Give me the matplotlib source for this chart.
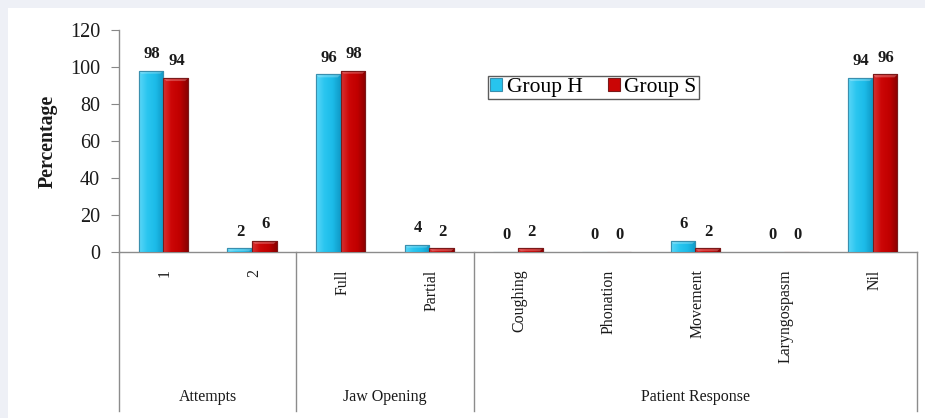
import numpy as np
import matplotlib
matplotlib.use("Agg")
import matplotlib.pyplot as plt
from matplotlib.colors import LinearSegmentedColormap
from matplotlib.patches import Rectangle, Patch
from matplotlib.lines import Line2D

plt.rcParams['font.family'] = ['Liberation Serif', 'DejaVu Serif']

categories = ["1", "2", "Full", "Partial", "Coughing", "Phonation",
              "Movement", "Laryngospasm", "Nil"]
groups = ["Attempts", "Jaw Opening", "Patient Response"]
group_sizes = [2, 2, 5]
group_h = [98, 2, 96, 4, 0, 0, 6, 0, 94]
group_s = [94, 6, 98, 2, 2, 0, 2, 0, 96]
series_names = ["Group H", "Group S"]
y_ticks = [0, 20, 40, 60, 80, 100, 120]

W, H = 925, 418
fig = plt.figure(figsize=(W / 100, H / 100), dpi=100)
fig.patch.set_facecolor("#eef0f6")
# white panel behind everything
fig.patches.append(Rectangle((8 / W, 0), 1 - 8 / W, 1 - 8 / H,
                             transform=fig.transFigure, facecolor="white",
                             edgecolor="none", zorder=-10))

ax_l, ax_r, ax_t, ax_b = 119, 917, 30, 252
ax = fig.add_axes([ax_l / W, 1 - ax_b / H, (ax_r - ax_l) / W, (ax_b - ax_t) / H])
ax.set_facecolor("none")

n = len(categories)
x = np.arange(n)
bw = 0.28

cmap_h = LinearSegmentedColormap.from_list(
    "h", ["#5ad6f7", "#2ac6f0", "#1cbbe8", "#1099c6"])
cmap_s = LinearSegmentedColormap.from_list(
    "s", ["#d83030", "#cc0606", "#c00000", "#8a0000"])
edge_h = "#3a8fae"
edge_s = "#7a1a1a"

grad = np.linspace(0, 1, 64).reshape(1, -1)

def gradient_bars(xs, vals, cmap, edge):
    bars = ax.bar(xs, vals, bw, color=cmap(0.4), edgecolor=edge,
                  linewidth=0.8, zorder=3)
    for b in bars:
        x0, y0 = b.get_x(), b.get_y()
        w, h = b.get_width(), b.get_height()
        if h <= 0:
            continue
        im = ax.imshow(grad, cmap=cmap, aspect="auto",
                       extent=(x0, x0 + w, y0, y0 + h), zorder=3.5,
                       interpolation="bicubic")
        im.set_clip_path(b)
        # bevelled top highlight
        th = min(h, 1.6)
        ax.fill([x0, x0 + w, x0 + w * 0.88, x0 + w * 0.12],
                [y0 + h, y0 + h, y0 + h - th, y0 + h - th],
                color="white", alpha=0.25, zorder=3.6, lw=0)
        ax.add_patch(Rectangle((x0, y0), w, h, fill=False, edgecolor=edge,
                               linewidth=0.8, zorder=3.7))
    return bars

bars_h = gradient_bars(x - bw / 2, group_h, cmap_h, edge_h)
bars_s = gradient_bars(x + bw / 2, group_s, cmap_s, edge_s)

for xs, vals in ((x - bw / 2, group_h), (x + bw / 2, group_s)):
    for xi, v in zip(xs, vals):
        ax.annotate(f"{v}", (xi, v), xytext=(0.5, 12),
                    textcoords="offset points", ha="center", va="center",
                    fontsize=12, fontweight="bold", color="#1a1a1a")

ax.set_xlim(-0.5, n - 0.5)
ax.set_ylim(0, 120)
ax.set_yticks(y_ticks)
ax.tick_params(axis="y", direction="out", length=6, color="#888888",
               labelsize=14.5, pad=7.5, labelcolor="#1a1a1a")
ax.set_xticks([])
for side in ("top", "right"):
    ax.spines[side].set_visible(False)
for side in ("left", "bottom"):
    ax.spines[side].set_color("#8c8c8c")
    ax.spines[side].set_linewidth(1.0)

ax.set_ylabel("Percentage", fontsize=14.3, fontweight="bold", labelpad=9,
              color="#1a1a1a")

# category labels, rotated
for xi, lab in zip(x, categories):
    ax.annotate(lab, (xi + 0.02, 0), xycoords=("data", "axes fraction"),
                xytext=(0, -12.5), textcoords="offset points",
                rotation=90, ha="center", va="top", fontsize=11.4,
                color="#1a1a1a")

# group separators and group labels
trans = fig.transFigure
bottom_y = 1 - 411 / H
edges = np.concatenate([[0], np.cumsum(group_sizes)]) - 0.5
for e in edges:
    xf = fig.transFigure.inverted().transform(ax.transData.transform((e, 0)))[0]
    fig.add_artist(Line2D([xf, xf], [1 - ax_b / H, bottom_y], transform=trans,
                          color="#8c8c8c", linewidth=1.0))
for g, a, b in zip(groups, edges[:-1], edges[1:]):
    ax.annotate(g, ((a + b) / 2, 0), xycoords=("data", "axes fraction"),
                xytext=(0, -(397 - ax_b) * 0.72), textcoords="offset points",
                ha="center", va="center", fontsize=11.5, color="#1a1a1a")

# legend
handles = [Patch(facecolor=cmap_h(0.4), edgecolor=edge_h, linewidth=0.8),
           Patch(facecolor=cmap_s(0.4), edgecolor=edge_s, linewidth=0.8)]
leg = fig.legend(handles, series_names, loc="center",
                 bbox_to_anchor=(593.5 / W, 1 - 87.5 / H), ncol=2,
                 fontsize=15.5, frameon=True, fancybox=False,
                 handlelength=0.55, handleheight=0.55, handletextpad=0.2,
                 columnspacing=1.2, borderpad=0.1, borderaxespad=0)
leg.get_frame().set_edgecolor("#333333")
leg.get_frame().set_linewidth(1.0)

fig.savefig("out.png", dpi=100, facecolor=fig.get_facecolor())
